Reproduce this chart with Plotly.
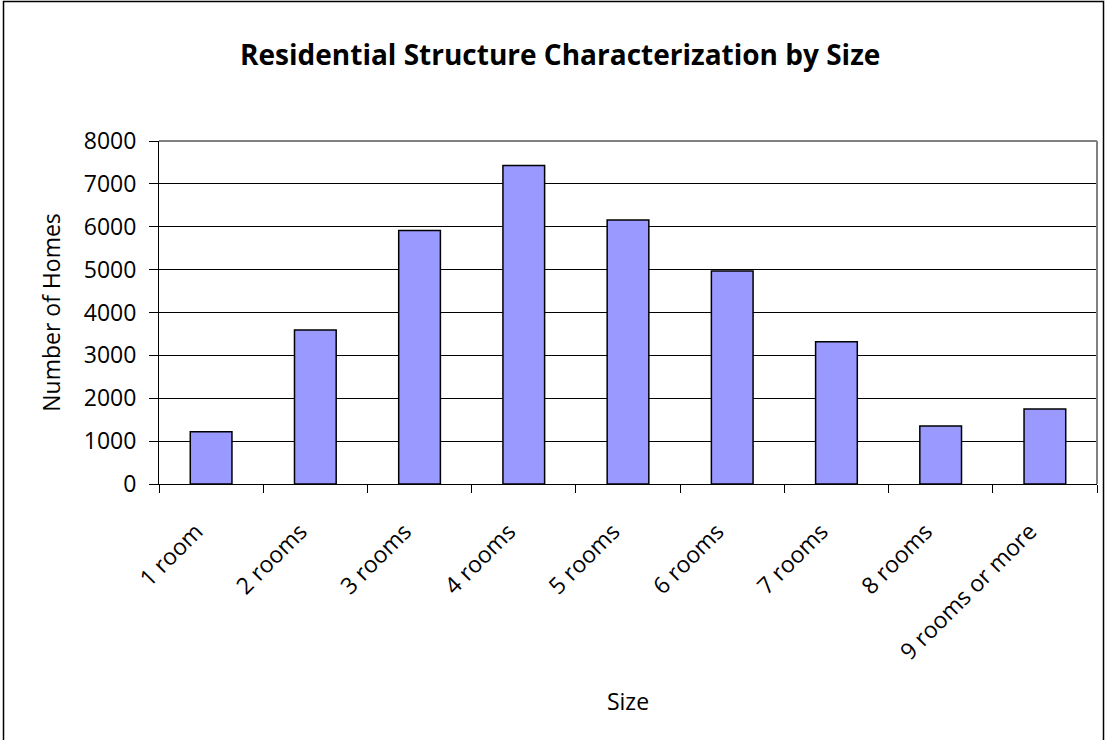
import plotly.graph_objects as go

categories = ["1 room", "2 rooms", "3 rooms", "4 rooms", "5 rooms",
              "6 rooms", "7 rooms", "8 rooms", "9 rooms or more"]
homes = [1220, 3590, 5910, 7430, 6160, 4970, 3320, 1350, 1750]
y_ticks = [0, 1000, 2000, 3000, 4000, 5000, 6000, 7000, 8000]

W, H = 1105, 740
ML, MR, MT, MB = 159, 8, 141, 256
pw, ph = W - ML - MR, H - MT - MB

FONT = "Open Sans"
FS = 23

fig = go.Figure()
fig.add_trace(go.Bar(
    x=categories, y=homes,
    marker=dict(color="#9999FF", line=dict(color="black", width=1.5)),
))

fig.update_layout(
    width=W, height=H,
    margin=dict(l=ML, r=MR, t=MT, b=MB),
    paper_bgcolor="white", plot_bgcolor="white",
    bargap=0.6,
    showlegend=False,
    font=dict(family=FONT, color="black", size=FS),
    title=dict(text="<b>Residential Structure Characterization by Size</b>",
               x=0.507, xanchor="center", y=1 - 55 / H, yanchor="middle",
               font=dict(family=FONT, size=28, color="black")),
)

fig.update_xaxes(
    type="category",
    tickangle=-45,
    tickson="boundaries",
    ticks="outside", ticklen=8, tickcolor="black",
    showline=True, linecolor="black", linewidth=1,
    showgrid=False,
    ticklabelstandoff=24,
    ticklabelshift=-15,
    tickfont=dict(family=FONT, size=FS),
    title=dict(text="Size", font=dict(family=FONT, size=FS), standoff=28),
)
fig.update_yaxes(
    range=[0, 8000],
    tickvals=y_ticks,
    ticks="outside", ticklen=9, tickcolor="black",
    showline=True, linecolor="black", linewidth=1,
    showgrid=True, gridcolor="black", gridwidth=1,
    zeroline=False,
    ticklabelstandoff=8,
    tickfont=dict(family=FONT, size=FS),
    title=dict(text="Number of Homes", font=dict(family=FONT, size=FS), standoff=16),
)

# plot-area border (gray top and right)
fig.add_shape(type="line", xref="paper", yref="paper", x0=0, x1=1, y0=1, y1=1,
              line=dict(color="#808080", width=2))
fig.add_shape(type="line", xref="paper", yref="paper", x0=1, x1=1, y0=0, y1=1,
              line=dict(color="#808080", width=2))

# outer chart border
fig.add_shape(type="rect", xref="paper", yref="paper",
              x0=(3.5 - ML) / pw, x1=(1103.5 - ML) / pw,
              y0=(H - MB - 760) / ph, y1=(H - MB - 1.5) / ph,
              line=dict(color="black", width=1.5), layer="above")

fig.write_html("out.html")
